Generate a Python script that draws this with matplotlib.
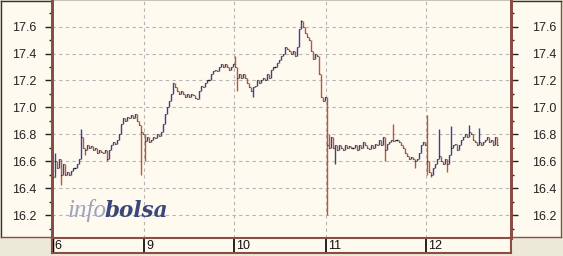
import matplotlib.pyplot as plt
import numpy as np
from matplotlib.ticker import MultipleLocator

# day labels and closing prices per bar (each bar ~ a few minutes)
day_labels = ['6', '9', '10', '11', '12']

close_d6 = [16.48, 16.60, 16.55, 16.62, 16.50, 16.58, 16.50, 16.52, 16.50, 16.53,
            16.55, 16.55, 16.58, 16.62, 16.78, 16.70, 16.68, 16.72, 16.70, 16.71,
            16.68, 16.70, 16.66, 16.68, 16.67, 16.66, 16.68, 16.62, 16.68, 16.72,
            16.74, 16.73, 16.76, 16.80, 16.88, 16.92, 16.90, 16.93, 16.92, 16.94,
            16.92, 16.95, 16.90, 16.87, 16.82, 16.80]
close_d9 = [16.75, 16.78, 16.74, 16.76, 16.78, 16.77, 16.80, 16.79, 16.82, 16.88,
            16.95, 17.00, 17.05, 17.10, 17.18, 17.15, 17.12, 17.10, 17.12, 17.10,
            17.08, 17.10, 17.08, 17.10, 17.09, 17.07, 17.06, 17.12, 17.16, 17.15,
            17.18, 17.20, 17.20, 17.25, 17.27, 17.28, 17.27, 17.30, 17.32, 17.30,
            17.32, 17.30, 17.28, 17.30, 17.32]
close_d10 = [17.30, 17.22, 17.25, 17.22, 17.25, 17.22, 17.18, 17.15, 17.12, 17.15,
             17.16, 17.20, 17.18, 17.20, 17.22, 17.20, 17.25, 17.22, 17.28, 17.30,
             17.30, 17.33, 17.35, 17.38, 17.40, 17.45, 17.43, 17.42, 17.40, 17.42,
             17.38, 17.45, 17.58, 17.64, 17.60, 17.55, 17.52, 17.50, 17.42, 17.36,
             17.40, 17.38, 17.25, 17.08, 17.05, 17.08]
close_d11 = [16.72, 16.70, 16.78, 16.70, 16.72, 16.68, 16.72, 16.70, 16.68, 16.72,
             16.70, 16.71, 16.70, 16.70, 16.72, 16.68, 16.72, 16.70, 16.74, 16.72,
             16.70, 16.69, 16.72, 16.70, 16.73, 16.72, 16.76, 16.72, 16.78, 16.68,
             16.73, 16.74, 16.76, 16.75, 16.76, 16.76, 16.74, 16.72, 16.70, 16.66,
             16.64, 16.62, 16.63, 16.62, 16.60, 16.62, 16.66, 16.72, 16.74, 16.72]
close_d12 = [16.60, 16.52, 16.50, 16.55, 16.58, 16.62, 16.64, 16.60, 16.58, 16.62,
             16.58, 16.65, 16.70, 16.72, 16.73, 16.68, 16.72, 16.76, 16.78, 16.80,
             16.78, 16.82, 16.80, 16.76, 16.74, 16.72, 16.74, 16.72, 16.74, 16.76,
             16.78, 16.74, 16.76, 16.72, 16.78, 16.72]

# wicks that stick out beyond open/close (bar index -> price)
spike_high = {1: 16.66, 14: 16.84, 91: 17.38, 124: 17.65, 138: 16.80,
              170: 16.88, 187: 16.94, 193: 16.84, 199: 16.86, 208: 16.87, 213: 16.85}
spike_low = {4: 16.42, 16: 16.65, 27: 16.60, 44: 16.50, 46: 16.60, 55: 16.82,
             92: 17.12, 100: 17.08, 137: 16.20, 141: 16.58, 166: 16.60,
             181: 16.55, 187: 16.50, 189: 16.48, 197: 16.52}

days = [close_d6, close_d9, close_d10, close_d11, close_d12]
close = np.array(sum(days, []))
day_start = np.cumsum([0] + [len(d) for d in days[:-1]])
x = np.arange(len(close))
opn = np.concatenate([[close[0]], close[:-1]])
hi = np.maximum(opn, close)
lo = np.minimum(opn, close)
for k, v in spike_high.items():
    hi[k] = max(hi[k], v)
for k, v in spike_low.items():
    lo[k] = min(lo[k], v)

cream = '#fffaef'
gray = '#ece9d8'
brown = '#8b4c43'
up_col = '#40408f'
dn_col = '#b85a3a'
font = 'Liberation Sans'

W, H = 563, 256
fig = plt.figure(figsize=(W / 100, H / 100), dpi=100, facecolor=gray)

def px_rect(x0, y0, x1, y1):
    return [x0 / W, 1 - y1 / H, (x1 - x0) / W, (y1 - y0) / H]

# cream panel behind the price axes
bg = fig.add_axes(px_rect(1, 1, 561, 237))
bg.set_facecolor(cream)
bg.set_xticks([]); bg.set_yticks([])
for s in ['top', 'left']:
    bg.spines[s].set_color('#333333'); bg.spines[s].set_linewidth(1.0)
for s in ['right', 'bottom']:
    bg.spines[s].set_color(brown); bg.spines[s].set_linewidth(1.0)

ax = fig.add_axes(px_rect(52, 1, 511, 238))
ax.set_facecolor(cream)
ax.set_xlim(-0.5, 229)
ax.set_ylim(16.03, 17.79)

flat = close == opn
cols = np.where(close > opn, up_col, dn_col)
show = ~flat | (hi > lo)
ax.vlines(x[show], lo[show], hi[show],
          colors=np.where(flat, 'black', cols)[show], lw=1.0, zorder=3)
ax.hlines(close[flat], x[flat] - 0.6, x[flat] + 0.6, colors='black', lw=1.0, zorder=4)
# small close ticks on the moving bars
ax.hlines(close[~flat], x[~flat], x[~flat] + 0.5, colors='black', lw=0.8, zorder=4)

seps = day_start - 0.5
seps[0] = -0.5
for s in seps[1:]:
    ax.axvline(s, color='#b4b4b4', lw=0.8, ls=(0, (3, 3)), zorder=1)
ax.yaxis.set_major_locator(MultipleLocator(0.2))
ax.yaxis.set_minor_locator(MultipleLocator(0.1))
ax.grid(axis='y', which='major', color='#b4b4b4', lw=0.8, ls=(0, (3, 3)), zorder=1)
ax.set_xticks([])
ax.tick_params(axis='y', which='major', length=5, width=1, pad=6, colors='#222222',
               labelsize=9)
ax.tick_params(axis='y', which='minor', length=2.5, width=1, colors='#222222')
for lab in ax.get_yticklabels():
    lab.set_fontfamily(font)

ax2 = ax.twinx()
ax2.set_ylim(ax.get_ylim())
ax2.yaxis.set_major_locator(MultipleLocator(0.2))
ax2.yaxis.set_minor_locator(MultipleLocator(0.1))
ax2.tick_params(axis='y', which='major', length=5, width=1, pad=10, colors='#222222',
                labelsize=9)
ax2.tick_params(axis='y', which='minor', length=2.5, width=1, colors='#222222')
for lab in ax2.get_yticklabels():
    lab.set_fontfamily(font)

for a in (ax, ax2):
    a.spines['top'].set_visible(False)
    for s in ['left', 'right', 'bottom']:
        a.spines[s].set_color(brown); a.spines[s].set_linewidth(2)

fmt = lambda v, p: '%.1f' % v
ax.yaxis.set_major_formatter(fmt)
ax2.yaxis.set_major_formatter(fmt)

# watermark
fig.text(68 / W, 1 - 217 / H, 'info', family='Liberation Serif', style='italic',
         fontsize=18, color='#9ea3bf', va='baseline', zorder=2)
fig.text(104 / W, 1 - 217 / H, 'bolsa', family='DejaVu Serif', style='italic',
         fontweight='semibold', fontsize=15.5, color='#3b4778', va='baseline', zorder=2)

# date strip below the chart
strip = fig.add_axes(px_rect(52, 238, 511, 253))
strip.set_facecolor(cream)
strip.set_xlim(ax.get_xlim())
strip.set_ylim(0, 1)
strip.set_xticks([]); strip.set_yticks([])
for s in strip.spines.values():
    s.set_color(brown); s.set_linewidth(1.5)
for i, (s, lab) in enumerate(zip(seps, day_labels)):
    strip.axvline(s, color='black', lw=2.5 if i == 0 else 1.2)
    strip.text(s + 1.0, 0.45, lab, family=font, fontsize=9, color='#111111',
               va='center', ha='left')

fig.savefig('out.png', dpi=100, facecolor=gray)
